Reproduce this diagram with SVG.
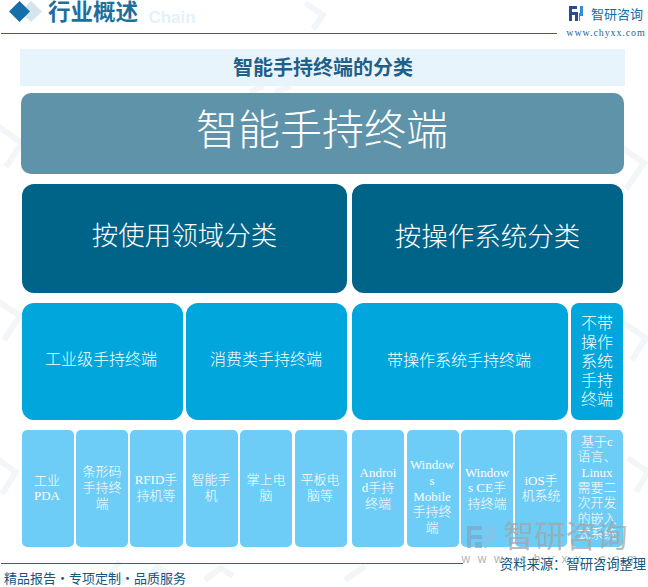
<svg xmlns="http://www.w3.org/2000/svg" width="648" height="587" viewBox="0 0 648 587">
<defs>
<style>
text{font-family:"Liberation Serif","Noto Sans CJK SC",serif;text-anchor:middle;fill:#fff}
.l1{fill:#5f93aa}.l2{fill:#006489}.l3{fill:#00a6dc}.l4{fill:#6dcdf7}
.t3{font-size:16px;font-weight:300}.t4{font-size:13px;font-weight:300}
.wm{fill:none;stroke:#f3f6f9;stroke-width:6}
</style>
</defs>
<rect width="648" height="587" fill="#fff"/>
<g id="watermarks">
<path class="wm" d="M305 3l18 12-10 14M-4 125l26 18-16 24M618 145l26 18-18 26M-4 300l24 16-16 24M622 322l24 16-14 22M-4 458l20 14-14 22M628 458l20 14-12 20M145 583l12-16 14 8-8 10M250 92l14-6M275 92l16-6M120 561l-10 14 16 8M345 580l20-14M205 580l16-12 12 8"/>
<text x="172" y="23" style="font-size:17px;font-weight:bold;font-family:'Liberation Sans',sans-serif;fill:#e4f1fa">Chain</text>
</g>
<g id="header">
<path d="M31 1l11 10.500-11 10.500-11-10.500z" fill="#d5e5ee"/>
<path d="M19.500 1l10.500 10.500-10.500 10.500-10.500-10.500z" fill="#1570a8"/>
<text x="93" y="20" style="font-size:22.500px;font-weight:bold;fill:#1f6f9e">行业概述</text>
<path d="M1 33.500H557" stroke="#1a6a93" stroke-width="1.200"/>
<path d="M569 6h8v3h-5v3h5v3h-5v6h-3z" fill="#2a4a94"/>
<path d="M575 12h3v9h-3z" fill="#2a4a94"/>
<path d="M580 6h3v10h-3v5h-1v-8h1z" fill="#2f8fd8"/>
<text x="617" y="19" style="font-size:13px;fill:#0f6da8">智研咨询</text>
<text x="606" y="36" style="font-size:10px;fill:#23668f;letter-spacing:.9px">www.chyxx.com</text>
</g>
<g id="title">
<rect x="20" y="49" width="605" height="37" fill="#e8f4fb"/>
<text x="323" y="75" style="font-size:20px;font-weight:bold;fill:#1f5f88">智能手持终端的分类</text>
</g>
<g id="connectors"></g>
<g id="root"><rect class="l1" x="21" y="93" width="603" height="81" rx="10"/><text x="322" y="145" style="font-size:42px;font-weight:300">智能手持终端</text></g>
<g id="cat-a"><rect class="l2" x="22" y="184" width="325" height="109" rx="12"/><text x="184.500" y="245" style="font-size:26.500px;font-weight:300">按使用领域分类</text></g>
<g id="cat-b"><rect class="l2" x="352" y="184" width="271" height="109" rx="12"/><text x="487.500" y="246" style="font-size:26.500px;font-weight:300">按操作系统分类</text></g>
<g id="m1"><rect class="l3" x="22" y="303" width="161" height="117" rx="12"/><text class="t3" x="101" y="365">工业级手持终端</text></g>
<g id="m2"><rect class="l3" x="186" y="303" width="161" height="117" rx="12"/><text class="t3" x="266" y="365">消费类手持终端</text></g>
<g id="m3"><rect class="l3" x="352" y="303" width="216" height="117" rx="12"/><text class="t3" x="459" y="366">带操作系统手持终端</text></g>
<g id="m4"><rect class="l3" x="571" y="303" width="52" height="117" rx="8"/><text class="t3" x="597"><tspan x="597" y="329">不带</tspan><tspan x="597" y="348">操作</tspan><tspan x="597" y="367">系统</tspan><tspan x="597" y="386">手持</tspan><tspan x="597" y="405">终端</tspan></text></g>
<g id="d1"><rect class="l4" x="22" y="430" width="52" height="117" rx="5"/><text class="t4"><tspan x="47" y="485">工业</tspan><tspan x="47" y="500">PDA</tspan></text></g>
<g id="d2"><rect class="l4" x="76" y="430" width="52" height="117" rx="5"/><text class="t4"><tspan x="102" y="476">条形码</tspan><tspan x="102" y="492">手持终</tspan><tspan x="102" y="508">端</tspan></text></g>
<g id="d3"><rect class="l4" x="130" y="430" width="53" height="117" rx="5"/><text class="t4"><tspan x="156" y="484">RFID手</tspan><tspan x="156" y="500">持机等</tspan></text></g>
<g id="d4"><rect class="l4" x="186" y="430" width="52" height="117" rx="5"/><text class="t4"><tspan x="211" y="484">智能手</tspan><tspan x="211" y="500">机</tspan></text></g>
<g id="d5"><rect class="l4" x="240" y="430" width="52" height="117" rx="5"/><text class="t4"><tspan x="266" y="484">掌上电</tspan><tspan x="266" y="500">脑</tspan></text></g>
<g id="d6"><rect class="l4" x="295" y="430" width="52" height="117" rx="5"/><text class="t4"><tspan x="320" y="484">平板电</tspan><tspan x="320" y="500">脑等</tspan></text></g>
<g id="d7"><rect class="l4" x="352" y="430" width="52" height="117" rx="5"/><text class="t4"><tspan x="378" y="477">Androi</tspan><tspan x="378" y="492">d手持</tspan><tspan x="378" y="508">终端</tspan></text></g>
<g id="d8"><rect class="l4" x="407" y="430" width="52" height="117" rx="5"/><text class="t4"><tspan x="432" y="469">Window</tspan><tspan x="432" y="485">s</tspan><tspan x="432" y="501">Mobile</tspan><tspan x="432" y="516">手持终</tspan><tspan x="432" y="532">端</tspan></text></g>
<g id="d9"><rect class="l4" x="461" y="430" width="52" height="117" rx="5"/><text class="t4"><tspan x="487" y="477">Window</tspan><tspan x="487" y="492">s CE手</tspan><tspan x="487" y="508">持终端</tspan></text></g>
<g id="d10"><rect class="l4" x="515" y="430" width="52" height="117" rx="5"/><text class="t4"><tspan x="541" y="485">iOS手</tspan><tspan x="541" y="500">机系统</tspan></text></g>
<g id="d11"><rect class="l4" x="571" y="430" width="52" height="117" rx="5"/><text class="t4"><tspan x="597" y="446">基于c</tspan><tspan x="597" y="461">语言、</tspan><tspan x="597" y="477">Linux</tspan><tspan x="597" y="492">需要二</tspan><tspan x="597" y="507">次开发</tspan><tspan x="597" y="523">的嵌入</tspan><tspan x="597" y="538">式系统</tspan></text></g>
<g id="footer">
<path d="M467 526h15v4h-11v5h11v4h-11v9h-4zM475 542h7v6h-7z" fill="#7f9fc0" opacity=".65"/>
<path d="M491 526h4v14h-8v8h-3v-11h7zM486 526h3v8h-3z" fill="#8fbfe0" opacity=".65"/>
<text x="565.500" y="547" style="font-size:31px;fill:#a5a5a5;opacity:.75">智研咨询</text>
<text x="553" y="563" style="font-size:12px;fill:#b4b4b4;letter-spacing:7.500px;font-family:'Liberation Sans',sans-serif">www.chyxx.com</text>
<path d="M1 563.500H463" stroke="#1a6a93" stroke-width="1.200"/>
<text x="573" y="569" style="font-size:13.300px;fill:#11577f">资料来源：智研咨询整理</text>
<text x="95" y="583" style="font-size:13px;fill:#11577f">精品报告・专项定制・品质服务</text>
</g>
</svg>
